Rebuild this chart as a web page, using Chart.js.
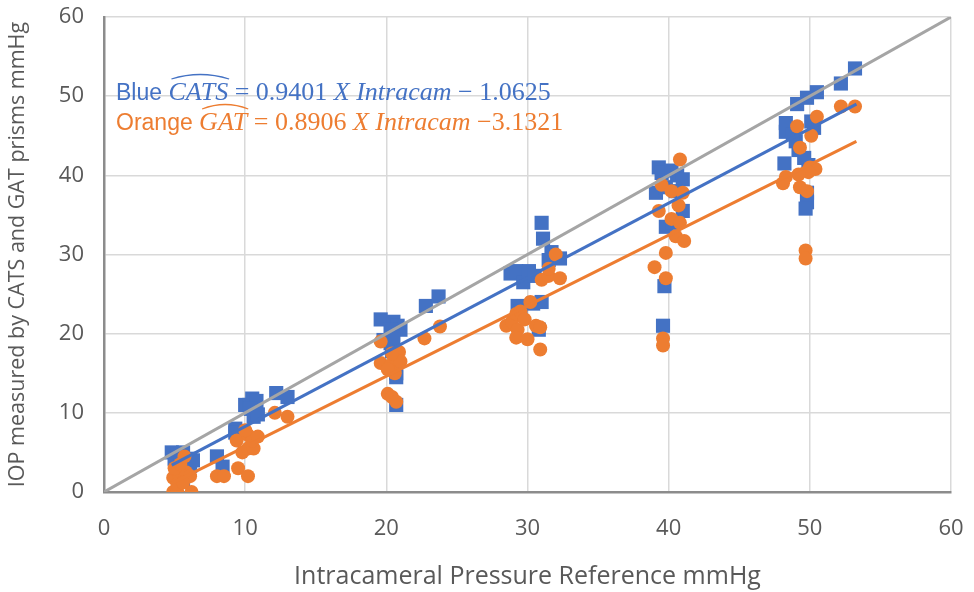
<!DOCTYPE html>
<html>
<head>
<meta charset="utf-8">
<script src="https://cdn.jsdelivr.net/npm/chart.js@4"></script>
<style>
  body { margin: 0; background: #fff; }
  canvas { display: block; }
</style>
</head>
<body>
<canvas id="myChart" width="974" height="592"></canvas>
<script>
// data
const catsX = [4.8, 5.2, 5.6, 5.0, 5.5, 5.8, 6.1, 6.1, 5.4, 5.6, 6.3,
  8.0, 8.4, 9.3, 9.3, 10.0, 10.3, 10.5, 10.8, 10.4, 10.6, 10.9, 12.2, 13.0,
  19.6, 20.5, 20.8, 21.0, 20.3, 19.8, 20.3, 20.4, 20.6, 20.7, 20.7, 20.7, 22.8, 23.7, 20.5,
  28.8, 29.2, 29.7, 30.1, 30.5, 31.0, 31.1, 31.7, 31.5, 32.3, 29.3, 30.4, 31.0, 30.8, 29.5,
  39.3, 39.5, 40.2, 40.6, 41.0, 39.1, 39.8, 40.5, 41.0, 39.8, 40.3, 39.7, 39.6,
  48.3, 48.3, 49.1, 49.8, 50.5, 52.2, 53.2, 50.1, 50.3, 49.0, 49.2, 49.6, 49.9, 48.2, 49.8, 49.8, 49.7, 48.8];
const catsY = [5.0, 4.8, 5.0, 4.2, 4.3, 3.8, 4.2, 3.3, 3.6, 1.6, 4.0,
  4.5, 3.2, 8.0, 7.5, 11.0, 11.0, 11.8, 11.5, 10.5, 9.5, 9.8, 12.5, 12.0,
  21.8, 21.5, 21.0, 20.5, 20.5, 19.2, 18.8, 17.8, 17.0, 15.0, 14.5, 11.0, 23.5, 24.7, 19.5,
  27.6, 27.9, 26.5, 27.9, 27.3, 34.0, 32.0, 30.3, 29.3, 29.5, 23.5, 23.8, 24.0, 20.5, 22.8,
  41.0, 40.3, 40.6, 40.0, 39.5, 37.8, 38.5, 38.0, 35.5, 33.5, 34.0, 26.0, 21.0,
  46.6, 45.5, 49.0, 49.8, 50.5, 51.6, 53.5, 46.8, 46.0, 44.3, 43.2, 42.2, 41.3, 41.5, 37.8, 36.6, 35.8, 45.2];

const gatX = [4.9, 5.2, 6.2, 4.9, 5.3, 5.8, 6.1, 5.0, 5.4, 5.7, 5.2, 5.6,
  8.0, 8.5, 9.5, 10.2, 9.4, 9.8, 10.2, 10.6, 10.2, 10.5, 10.9, 10.0, 12.1, 13.0,
  19.6, 20.9, 19.6, 20.3, 20.6, 21.0, 20.1, 20.4, 20.7, 22.7, 23.8, 20.4, 20.1,
  28.5, 28.9, 29.2, 29.5, 29.3, 29.2, 30.0, 30.6, 30.9, 30.9, 30.2, 31.0, 31.5, 31.5, 32.0, 32.3, 29.8,
  40.8, 39.5, 40.2, 41.0, 40.7, 39.3, 40.2, 40.8, 40.5, 41.1, 39.8, 39.0, 39.8, 39.6, 39.6,
  53.2, 52.2, 50.5, 49.1, 50.1, 49.3, 50.0, 50.4, 49.9, 49.2, 48.3, 48.1, 49.3, 49.8, 49.7, 49.7];
const gatY = [0.0, 0.0, 0.0, 1.8, 2.2, 2.5, 2.0, 3.0, 3.5, 4.5, 1.0, 1.2,
  2.0, 2.0, 3.0, 2.0, 6.5, 5.0, 5.5, 5.5, 7.2, 6.5, 7.0, 7.8, 10.0, 9.5,
  19.0, 17.7, 16.3, 16.0, 15.0, 16.5, 12.4, 12.0, 11.4, 19.4, 20.9, 17.5, 15.5,
  21.0, 21.5, 22.5, 22.8, 20.5, 19.5, 19.3, 21.0, 20.8, 18.0, 24.0, 26.8, 27.3, 28.2, 30.0, 27.0, 21.8,
  42.0, 38.8, 38.0, 37.8, 36.2, 35.5, 34.5, 34.0, 32.3, 31.7, 30.2, 28.4, 27.0, 19.4, 18.5,
  48.7, 48.7, 47.4, 46.2, 45.0, 43.5, 41.0, 40.8, 40.4, 40.1, 39.8, 39.0, 38.5, 38.0, 30.5, 29.5];

// fitted lines (end points) and the identity line
const fitX = [4.8, 53.3];
const catsFitY = [3.4, 49.0];
const gatFitY = [1.1, 44.3];
const identityX = [0, 60];
const identityY = [0, 60];

const BLUE = "#4472C4";
const ORANGE = "#ED7D31";
const GRAY = "#A5A5A5";

function toPoints(xs, ys) {
  return xs.map((x, i) => ({ x: x, y: ys[i] }));
}

// equation text drawn on the canvas
const equationPlugin = {
  id: "equations",
  afterDraw(chart) {
    const c = chart.ctx;
    c.save();
    c.textBaseline = "alphabetic";
    drawEquation(c, 116, 100, BLUE, "Blue ", "CATS", " = 0.9401 ", "X Intracam", " \u2212 1.0625");
    drawEquation(c, 116, 130, ORANGE, "Orange ", "GAT", " = 0.8906 ", "X Intracam", " \u22123.1321");
    c.restore();
  },
};

function drawEquation(c, x, y, color, word, hatted, mid, vars, tail) {
  c.fillStyle = color;
  c.strokeStyle = color;
  c.font = "23px 'Liberation Sans'";
  c.fillText(word, x, y);
  x += c.measureText(word).width;
  c.font = "italic 26px 'Liberation Serif'";
  c.fillText(hatted, x, y);
  const w = c.measureText(hatted).width;
  // hat over the estimate
  c.lineWidth = 1.3;
  c.beginPath();
  c.moveTo(x + 3, y - 21);
  c.quadraticCurveTo(x + w / 2 + 2, y - 30, x + w + 1, y - 21);
  c.stroke();
  x += w;
  c.font = "26px 'Liberation Serif'";
  c.fillText(mid, x, y);
  x += c.measureText(mid).width;
  c.font = "italic 26px 'Liberation Serif'";
  c.fillText(vars, x, y);
  x += c.measureText(vars).width;
  c.font = "26px 'Liberation Serif'";
  c.fillText(tail, x, y);
}

const ctx = document.getElementById("myChart").getContext("2d");
const myChart = new Chart(ctx, {
  type: "scatter",
  data: {
    datasets: [
      {
        label: "identity",
        data: toPoints(identityX, identityY),
        showLine: true,
        borderColor: GRAY,
        borderWidth: 3,
        pointRadius: 0,
        order: 0,
      },
      {
        label: "CATS fit",
        data: toPoints(fitX, catsFitY),
        showLine: true,
        borderColor: BLUE,
        borderWidth: 3,
        pointRadius: 0,
        order: 1,
      },
      {
        label: "GAT fit",
        data: toPoints(fitX, gatFitY),
        showLine: true,
        borderColor: ORANGE,
        borderWidth: 3,
        pointRadius: 0,
        order: 1,
      },
      {
        label: "GAT",
        data: toPoints(gatX, gatY),
        pointStyle: "circle",
        pointRadius: 7,
        backgroundColor: ORANGE,
        borderColor: ORANGE,
        borderWidth: 0,
        order: 2,
      },
      {
        label: "CATS",
        data: toPoints(catsX, catsY),
        pointStyle: "rect",
        pointRadius: 10,
        backgroundColor: BLUE,
        borderColor: BLUE,
        borderWidth: 0,
        order: 3,
      },
    ],
  },
  options: {
    responsive: false,
    animation: false,
    layout: { padding: { top: 17, right: 23, bottom: 0, left: 0 } },
    plugins: {
      legend: { display: false },
      tooltip: { enabled: false },
    },
    scales: {
      x: {
        type: "linear",
        min: 0,
        max: 60,
        ticks: {
          stepSize: 10,
          padding: 6,
          color: "#595959",
          font: { family: "'Open Sans'", size: 22 },
        },
        // invisible tick marks keep the labels away from the axis
        grid: { color: "#D9D9D9", lineWidth: 1.5, drawTicks: true, tickLength: 18, tickColor: "rgba(0,0,0,0)" },
        border: { color: "#8C8C8C", width: 2.5 },
        title: {
          display: true,
          text: "Intracameral Pressure Reference mmHg",
          color: "#595959",
          font: { family: "'Open Sans'", size: 25 },
          padding: { top: 0, bottom: 0 },
        },
        afterFit: function (scale) {
          scale.height = 100;
        },
      },
      y: {
        type: "linear",
        min: 0,
        max: 60,
        ticks: {
          stepSize: 10,
          padding: 2,
          color: "#595959",
          font: { family: "'Open Sans'", size: 22 },
        },
        grid: { color: "#D9D9D9", lineWidth: 1.5, drawTicks: true, tickLength: 18, tickColor: "rgba(0,0,0,0)" },
        border: { color: "#8C8C8C", width: 2.5 },
        title: {
          display: true,
          text: "IOP measured by CATS and GAT prisms mmHg",
          color: "#595959",
          font: { family: "'Open Sans'", size: 21.5 },
          padding: { top: 5, bottom: 0 },
        },
        afterFit: function (scale) {
          scale.width = 104;
        },
      },
    },
  },
  plugins: [equationPlugin],
});
</script>
</body>
</html>
